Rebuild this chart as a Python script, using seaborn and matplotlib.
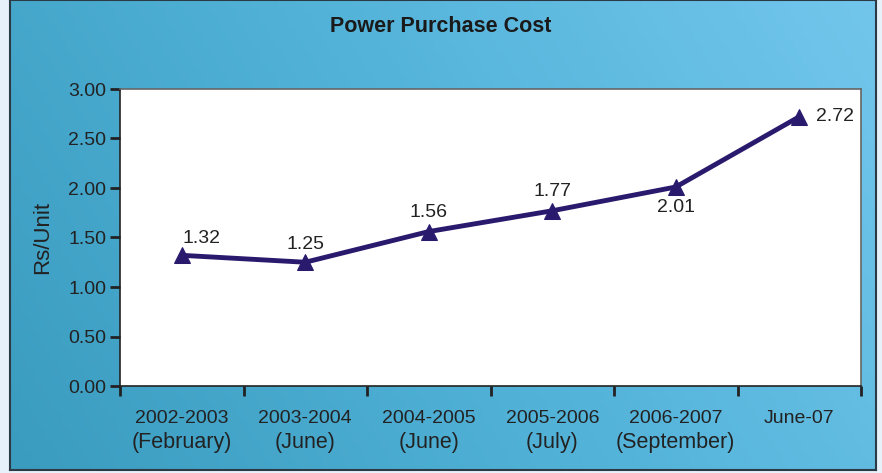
import numpy as np
import pandas as pd
import matplotlib
matplotlib.use("Agg")
import matplotlib.pyplot as plt
import matplotlib.transforms as mtransforms
import seaborn as sns
from matplotlib.colors import LinearSegmentedColormap

years = ["2002-2003", "2003-2004", "2004-2005", "2005-2006", "2006-2007", "June-07"]
months = ["(February)", "(June)", "(June)", "(July)", "(September)", ""]
cost = [1.32, 1.25, 1.56, 1.77, 2.01, 2.72]
yticks = [0.0, 0.5, 1.0, 1.5, 2.0, 2.5, 3.0]

df = pd.DataFrame({"pos": range(len(years)), "cost": cost})

sns.set_style("white")
plt.rcParams["font.family"] = ["Liberation Sans", "DejaVu Sans"]

fig = plt.figure(figsize=(8.82, 4.73), dpi=100)
fig.patch.set_facecolor("#e6f1fa")

# gradient panel behind the chart
bg = fig.add_axes([10 / 882, 3 / 473, 866 / 882, 470 / 473])
cmap = LinearSegmentedColormap.from_list("panel", ["#3a9cbf", "#52b2d8", "#72c6ec"])
gx, gy = np.meshgrid(np.linspace(0, 1, 200), np.linspace(0, 1, 100))
bg.imshow(0.75 * gx + 0.25 * gy, cmap=cmap, aspect="auto", origin="lower", extent=[0, 1, 0, 1])
bg.set_xticks([])
bg.set_yticks([])
for s in bg.spines.values():
    s.set_color("#2b3a44")
    s.set_linewidth(1.5)

ax = fig.add_axes([120 / 882, 1 - 386 / 473, 741 / 882, 297 / 473])
ax.set_facecolor("white")
sns.lineplot(data=df, x="pos", y="cost", ax=ax, color="#2a1a6e", linewidth=3.5,
             marker="^", markersize=12, markeredgecolor="#2a1a6e")

ax.set_xlim(-0.5, len(years) - 0.5)
ax.set_ylim(0, 3.0)
ax.set_yticks(yticks)
ax.set_yticklabels([f"{v:.2f}" for v in yticks], fontsize=14, color="#222222")
ax.set_xticks(np.arange(len(years) + 1) - 0.5)
ax.set_xticklabels([])
ax.set_xticks(np.arange(len(years)), minor=True)
ax.set_xticklabels(years, minor=True, fontsize=14, color="#222222")
ax.tick_params(axis="x", which="major", bottom=True, direction="out", length=7, width=2, color="#222222")
ax.tick_params(axis="x", which="minor", bottom=True, length=0, pad=17)
ax.tick_params(axis="y", left=True, direction="out", length=7, width=2, color="#222222", pad=3)
for s in ax.spines.values():
    s.set_color("#666666")
    s.set_linewidth(1.2)
ax.spines["left"].set_color("#222222")
ax.spines["bottom"].set_color("#222222")

# second line of the category labels, slightly larger like the original
trans = mtransforms.blended_transform_factory(ax.transData, fig.transFigure)
for i, m in enumerate(months):
    ax.text(i, 1 - 442 / 473, m, transform=trans, ha="center", va="center",
            fontsize=15.5, color="#222222")

offsets = [(14, 12), (0, 13), (0, 14), (0, 14), (0, -15), (26, 0)]
for i, (v, off) in enumerate(zip(cost, offsets)):
    ax.annotate(f"{v:.2f}", (i, v), xytext=off, textcoords="offset points",
                ha="center", va="center", fontsize=14, color="#222222")

ax.set_xlabel("")
ax.set_ylabel("Rs/Unit", fontsize=16, color="#222222", labelpad=11)
fig.text(0.5, 1 - 27 / 473, "Power Purchase Cost", ha="center", va="center",
         fontsize=15.5, fontweight="bold", color="#1a1a1a")

fig.savefig("out.png", dpi=100)
